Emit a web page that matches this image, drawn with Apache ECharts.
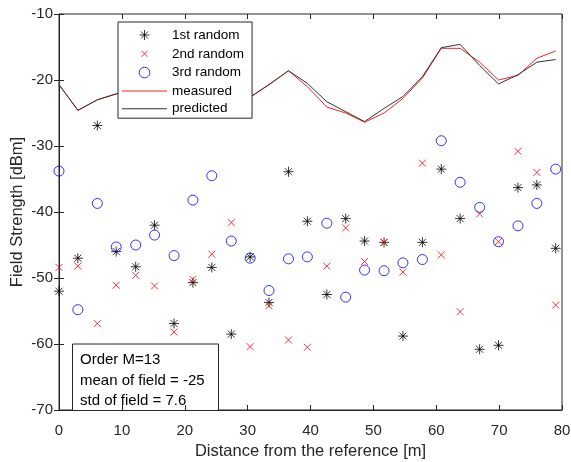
<!DOCTYPE html>
<html>
<head>
<meta charset="utf-8">
<script src="https://cdn.jsdelivr.net/npm/echarts@6/dist/echarts.min.js"></script>
<style>
  html, body { margin: 0; padding: 0; background: #fff; }
  #chart { width: 571px; height: 462px; }
</style>
</head>
<body>
<div id="chart"></div>
<script>
// Sample positions along the route [m]
const distance = [0, 3.0, 6.1, 9.1, 12.2, 15.2, 18.3, 21.3, 24.3, 27.4, 30.4, 33.4, 36.5, 39.5,
  42.6, 45.6, 48.6, 51.7, 54.7, 57.8, 60.8, 63.8, 66.9, 69.9, 73.0, 76.0, 79.0];

// Three random realisations of the field [dBm]
const random1 = [-52.0, -47.0, -26.9, -46.0, -48.3, -42.0, -56.9, -50.7, -48.4, -58.5, -46.8, -53.7, -33.9, -41.4,
  -52.5, -41.0, -44.4, -44.6, -58.8, -44.6, -33.5, -41.0, -60.8, -60.2, -36.3, -35.9, -45.5];
const random2 = [-48.4, -48.2, -56.9, -51.1, -49.6, -51.2, -58.2, -50.2, -46.4, -41.6, -60.4, -54.2, -59.4, -60.5,
  -48.2, -42.4, -47.5, -44.6, -49.1, -32.6, -46.5, -55.1, -40.3, -44.5, -30.8, -34.0, -54.1];
const random3 = [-33.8, -54.8, -38.7, -45.3, -45.0, -43.5, -46.6, -38.2, -34.5, -44.4, -47.0, -51.9, -47.1, -46.8,
  -41.7, -52.9, -48.8, -48.9, -47.7, -47.2, -29.2, -35.5, -39.3, -44.5, -42.1, -38.7, -33.5];

// Mean field: measured and model prediction [dBm]
const measured = [-20.7, -24.6, -23.0, -22.1, -21.4, -20.8, -21.6, -22.8, -23.4, -23.0, -22.6, -20.7, -18.6, -21.0,
  -24.1, -25.0, -26.4, -25.0, -22.8, -19.7, -15.2, -15.2, -17.3, -20.0, -19.3, -16.7, -15.6];
const predicted = [-20.7, -24.6, -23.0, -22.1, -21.4, -20.8, -21.6, -22.8, -23.4, -23.0, -22.6, -20.7, -18.6, -20.5,
  -23.3, -24.8, -26.3, -24.3, -22.5, -19.5, -15.1, -14.6, -17.8, -20.6, -19.2, -17.3, -16.9];

// Axis ticks
const xTicks = [0, 10, 20, 30, 40, 50, 60, 70, 80];
const yTicks = [-70, -60, -50, -40, -30, -20, -10];

// Legend / annotation texts
const seriesNames = ['1st random', '2nd random', '3rd random', 'measured', 'predicted'];
const noteLines = ['Order M=13', 'mean of field = -25', 'std of field = 7.6'];

const FONT = '"Liberation Sans", Arial, Helvetica, sans-serif';
const AXIS_COLOR = '#262626';

const pairs = (ys) => distance.map((d, i) => [d, ys[i]]);

// Marker glyphs (stroked outlines)
const STAR = 'path://M5,0L5,10M0,5L10,5M1.5,1.5L8.5,8.5M8.5,1.5L1.5,8.5';
const CROSS = 'path://M0,0L10,10M10,0L0,10';
// Legend glyphs with an empty margin so they are drawn at marker size
const STAR_ICON = 'path://M0,0M14,14M7,2L7,12M2,7L12,7M3.5,3.5L10.5,10.5M10.5,3.5L3.5,10.5';
const CROSS_ICON = 'path://M0,0M14,14M4,4L10,10M10,4L4,10';
const CIRCLE_ICON = 'path://M0,0M14,14M12.3,7A5.3,5.3,0,1,1,1.7,7A5.3,5.3,0,1,1,12.3,7Z';
// Plain line sample for the line entries (thin filled bar across the icon box)
const LINE_ICON = 'path://M0,0M45,14M0,6.5L45,6.5L45,7.5L0,7.5Z';

const xMin = xTicks[0], xMax = xTicks[xTicks.length - 1], xStep = xTicks[1] - xTicks[0];
const yMin = yTicks[0], yMax = yTicks[yTicks.length - 1], yStep = yTicks[1] - yTicks[0];

const tickStyle = { inside: true, length: 5, lineStyle: { color: AXIS_COLOR, width: 1 } };
const labelStyle = { color: AXIS_COLOR, fontFamily: FONT, fontSize: 15 };

const chart = echarts.init(document.getElementById('chart'), null, { renderer: 'canvas' });

chart.setOption({
  animation: false,
  backgroundColor: '#fff',
  grid: {
    left: 59, right: 9, top: 14, bottom: 52,
    show: true, borderColor: AXIS_COLOR, borderWidth: 1, backgroundColor: '#fff',
    containLabel: false, outerBoundsMode: 'none'
  },
  xAxis: [
    {
      type: 'value', min: xMin, max: xMax, interval: xStep, position: 'bottom',
      name: 'Distance from the reference [m]', nameLocation: 'middle', nameGap: 32,
      nameTextStyle: { color: AXIS_COLOR, fontFamily: FONT, fontSize: 16.5 },
      axisLine: { show: true, lineStyle: { color: AXIS_COLOR, width: 1 } },
      axisTick: tickStyle,
      axisLabel: Object.assign({ margin: 13 }, labelStyle),
      splitLine: { show: false }
    },
    {
      type: 'value', min: xMin, max: xMax, interval: xStep, position: 'top',
      axisLine: { show: false }, axisTick: tickStyle, axisLabel: { show: false }, splitLine: { show: false }
    }
  ],
  yAxis: [
    {
      type: 'value', min: yMin, max: yMax, interval: yStep, position: 'left',
      name: 'Field Strength [dBm]', nameLocation: 'middle', nameGap: 33, nameMoveOverlap: false,
      nameTextStyle: { color: AXIS_COLOR, fontFamily: FONT, fontSize: 16.5 },
      axisLine: { show: true, lineStyle: { color: AXIS_COLOR, width: 1 } },
      axisTick: tickStyle,
      axisLabel: Object.assign({ margin: 6 }, labelStyle),
      splitLine: { show: false }
    },
    {
      type: 'value', min: yMin, max: yMax, interval: yStep, position: 'right',
      axisLine: { show: false }, axisTick: tickStyle, axisLabel: { show: false }, splitLine: { show: false }
    }
  ],
  legend: {
    orient: 'vertical', left: 118, top: 22,
    itemWidth: 45, itemHeight: 14, itemGap: 3.8,
    padding: [5.5, 8, 2.5, 4],
    backgroundColor: '#fff', borderColor: AXIS_COLOR, borderWidth: 1, borderRadius: 0,
    textStyle: { color: '#000', fontFamily: FONT, fontSize: 13.5, lineHeight: 14 },
    itemStyle: { borderWidth: 1 },
    data: [
      { name: seriesNames[0], icon: STAR_ICON },
      { name: seriesNames[1], icon: CROSS_ICON },
      { name: seriesNames[2], icon: CIRCLE_ICON },
      { name: seriesNames[3], icon: LINE_ICON, itemStyle: { borderWidth: 0 } },
      { name: seriesNames[4], icon: LINE_ICON, itemStyle: { borderWidth: 0 } }
    ],
    z: 10
  },
  series: [
    {
      name: seriesNames[0], type: 'scatter', data: pairs(random1),
      symbol: STAR, symbolSize: 10,
      itemStyle: { color: 'rgba(0,0,0,0)', borderColor: '#000', borderWidth: 1 },
      emphasis: { disabled: true }
    },
    {
      name: seriesNames[1], type: 'scatter', data: pairs(random2),
      symbol: CROSS, symbolSize: 7,
      itemStyle: { color: 'rgba(0,0,0,0)', borderColor: '#ff0000', borderWidth: 1 },
      emphasis: { disabled: true }
    },
    {
      name: seriesNames[2], type: 'scatter', data: pairs(random3),
      symbol: 'circle', symbolSize: 10,
      itemStyle: { color: 'rgba(0,0,0,0)', borderColor: '#0000ff', borderWidth: 1 },
      emphasis: { disabled: true }
    },
    {
      name: seriesNames[3], type: 'line', data: pairs(measured),
      symbol: 'none', showSymbol: false,
      lineStyle: { color: '#ff2020', width: 1 }, itemStyle: { color: '#ff2020' },
      emphasis: { disabled: true }
    },
    {
      name: seriesNames[4], type: 'line', data: pairs(predicted),
      symbol: 'none', showSymbol: false,
      lineStyle: { color: '#333333', width: 1 }, itemStyle: { color: '#333333' },
      emphasis: { disabled: true }
    }
  ],
  graphic: [
    {
      type: 'group', left: 72, top: 343.5, z: 20,
      children: [
        {
          type: 'rect', shape: { x: 0, y: 0, width: 146, height: 66.5 },
          style: { fill: '#fff', stroke: AXIS_COLOR, lineWidth: 1 }
        },
        ...noteLines.map((t, i) => ({
          type: 'text', x: 7.5, y: 16 + i * 20.5,
          style: { text: t, fill: '#000', font: '15px ' + FONT, verticalAlign: 'middle' }
        }))
      ]
    }
  ]
});
</script>
</body>
</html>
